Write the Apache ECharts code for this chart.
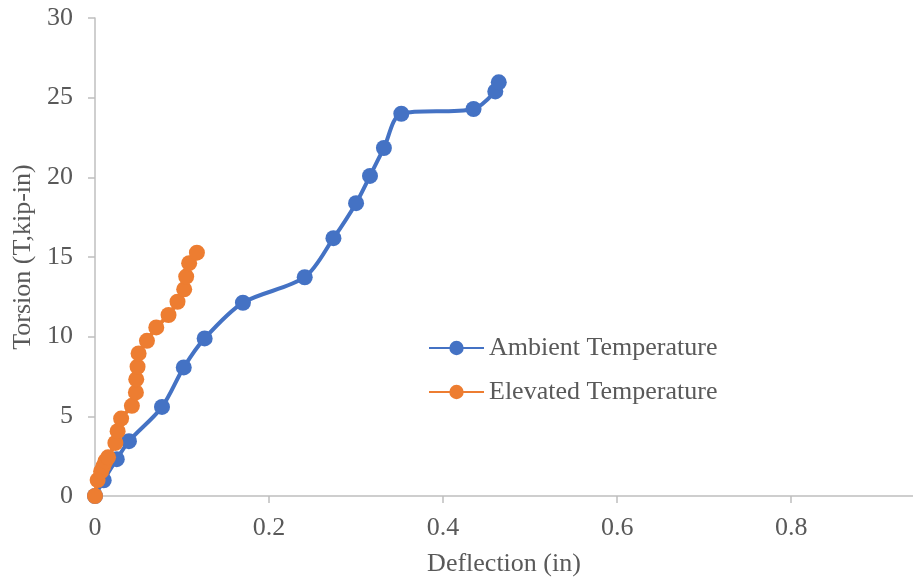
<!DOCTYPE html>
<html>
<head>
<meta charset="utf-8">
<script src="https://cdn.jsdelivr.net/npm/echarts@6/dist/echarts.min.js"></script>
<style>
  html, body { margin: 0; padding: 0; background: #fff; }
  #chart { width: 913px; height: 584px; }
</style>
</head>
<body>
<div id="chart"></div>
<script>
// Torsion vs. deflection, ambient and elevated temperature tests
const seriesNames = ['Ambient Temperature', 'Elevated Temperature'];

const ambientDeflection = [0, 0.010, 0.025, 0.039, 0.077, 0.102, 0.126, 0.170, 0.241, 0.274, 0.300, 0.316, 0.332, 0.352, 0.435, 0.460, 0.464];
const ambientTorsion    = [0, 0.99, 2.31, 3.44, 5.59, 8.07, 9.89, 12.13, 13.73, 16.18, 18.38, 20.09, 21.84, 23.99, 24.29, 25.39, 25.96];

const elevatedDeflection = [0, 0.003, 0.007, 0.0095, 0.012, 0.015, 0.0234, 0.026, 0.030, 0.0424, 0.047, 0.0474, 0.0489, 0.0501, 0.0597, 0.0704, 0.0845, 0.0948, 0.1025, 0.1048, 0.1082, 0.1171];
const elevatedTorsion    = [0, 1.0, 1.54, 1.86, 2.18, 2.43, 3.33, 4.07, 4.86, 5.66, 6.50, 7.32, 8.11, 8.95, 9.74, 10.58, 11.36, 12.19, 12.97, 13.77, 14.61, 15.27];

const xTicks = { min: 0, max: 0.94, interval: 0.2 };
const yTicks = { min: 0, max: 30, interval: 5 };

const pairs = (xs, ys) => xs.map((x, i) => [x, ys[i]]);

const textColor = '#595959';
const axisColor = '#BFBFBF';
const fontFamily = '"Liberation Serif", "Times New Roman", serif';

const chart = echarts.init(document.getElementById('chart'));
chart.setOption({
  animation: false,
  textStyle: { fontFamily: fontFamily },
  grid: { left: 95, right: 0, top: 18, bottom: 88 },
  legend: {
    orient: 'vertical',
    left: 428,
    top: 333,
    padding: 0,
    itemWidth: 55,
    itemHeight: 18,
    itemGap: 14,
    data: seriesNames,
    textStyle: { color: textColor, fontSize: 26, fontFamily: fontFamily, lineHeight: 30 }
  },
  xAxis: {
    type: 'value',
    min: xTicks.min,
    max: xTicks.max,
    interval: xTicks.interval,
    name: 'Deflection (in)',
    nameLocation: 'middle',
    nameGap: 55,
    nameTextStyle: { color: textColor, fontSize: 26, fontFamily: fontFamily },
    splitLine: { show: false },
    axisLine: { lineStyle: { color: axisColor, width: 1.5 } },
    axisTick: { show: true, length: 7, inside: false, lineStyle: { color: axisColor, width: 1.5 } },
    axisLabel: {
      color: textColor, fontSize: 26, fontFamily: fontFamily, margin: 19,
      showMaxLabel: false,
      formatter: v => (v === 0 ? '0' : String(+v.toFixed(1)))
    }
  },
  yAxis: {
    type: 'value',
    min: yTicks.min,
    max: yTicks.max,
    interval: yTicks.interval,
    name: 'Torsion (T,kip-in)',
    nameLocation: 'middle',
    nameGap: 48,
    nameTextStyle: { color: textColor, fontSize: 26, fontFamily: fontFamily },
    splitLine: { show: false },
    axisLine: { show: true, lineStyle: { color: axisColor, width: 1.5 } },
    axisTick: { show: true, length: 7, inside: false, lineStyle: { color: axisColor, width: 1.5 } },
    axisLabel: { color: textColor, fontSize: 26, fontFamily: fontFamily, margin: 22 }
  },
  series: [
    {
      name: seriesNames[0],
      type: 'line',
      smooth: 0.3,
      data: pairs(ambientDeflection, ambientTorsion),
      symbol: 'circle',
      symbolSize: 16,
      itemStyle: { color: '#4472C4' },
      lineStyle: { color: '#4472C4', width: 4 },
      z: 2
    },
    {
      name: seriesNames[1],
      type: 'line',
      smooth: 0.3,
      data: pairs(elevatedDeflection, elevatedTorsion),
      symbol: 'circle',
      symbolSize: 16,
      itemStyle: { color: '#ED7D31' },
      lineStyle: { color: '#ED7D31', width: 4 },
      z: 3
    }
  ]
});
</script>
</body>
</html>
